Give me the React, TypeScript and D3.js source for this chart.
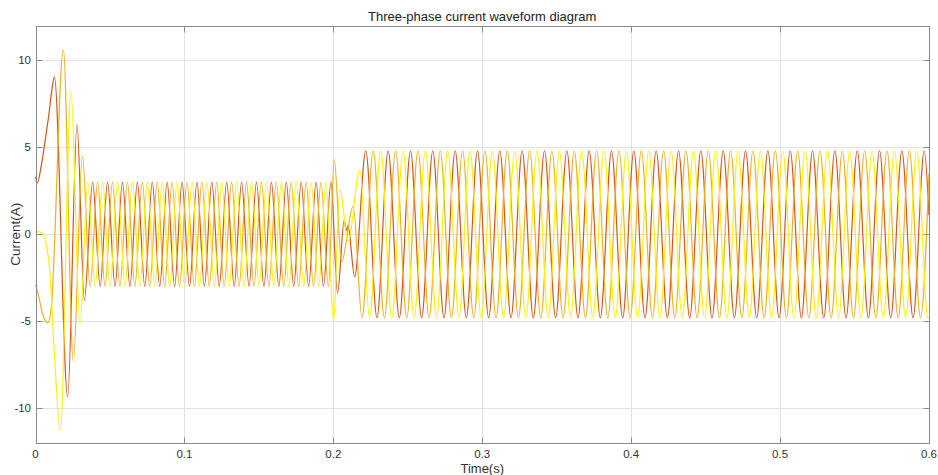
import * as d3 from 'd3'
import React, { useEffect, useRef } from "react";

// turning points [time (s), current (A)]
const phaseA: [number, number][] = [
    [0, 3.3], [0.0012, 2.95], [0.004, 4.0], [0.0065, 5.4], [0.009, 6.9], [0.011, 8.3], [0.0127, 9.05],
    [0.0216, -9.35], [0.0279, 6.3], [0.0328, -3.8],
    [0.0384, 3], [0.0434, -3], [0.0484, 3], [0.0534, -3], [0.0584, 3], [0.0634, -3], [0.0684, 3], [0.0734, -3],
    [0.0784, 3], [0.0834, -3], [0.0884, 3], [0.0934, -3], [0.0984, 3], [0.1034, -3], [0.1084, 3], [0.1134, -3],
    [0.1184, 3], [0.1234, -3], [0.1284, 3], [0.1334, -3], [0.1384, 3], [0.1434, -3], [0.1484, 3], [0.1534, -3],
    [0.1584, 3], [0.1634, -3], [0.1684, 3], [0.1734, -3], [0.1784, 3], [0.1834, -3], [0.1884, 3], [0.1934, -3],
    [0.1984, 3],
    [0.2028, -3.4], [0.2073, 0.8], [0.2088, 0.2], [0.2099, 0.5], [0.2143, -2.45],
    [0.2218, 4.8], [0.2293, -4.8], [0.2368, 4.8], [0.2443, -4.8], [0.2518, 4.8], [0.2593, -4.8], [0.2668, 4.8],
    [0.2743, -4.8], [0.2818, 4.8], [0.2893, -4.8], [0.2968, 4.8], [0.3043, -4.8], [0.3118, 4.8], [0.3193, -4.8],
    [0.3268, 4.8], [0.3343, -4.8], [0.3418, 4.8], [0.3493, -4.8], [0.3568, 4.8], [0.3643, -4.8], [0.3718, 4.8],
    [0.3793, -4.8], [0.3868, 4.8], [0.3943, -4.8], [0.4018, 4.8], [0.4093, -4.8], [0.4168, 4.8], [0.4243, -4.8],
    [0.4318, 4.8], [0.4393, -4.8], [0.4468, 4.8], [0.4543, -4.8], [0.4618, 4.8], [0.4693, -4.8], [0.4768, 4.8],
    [0.4843, -4.8], [0.4918, 4.8], [0.4993, -4.8], [0.5068, 4.8], [0.5143, -4.8], [0.5218, 4.8], [0.5293, -4.8],
    [0.5368, 4.8], [0.5443, -4.8], [0.5518, 4.8], [0.5593, -4.8], [0.5668, 4.8], [0.5743, -4.8], [0.5818, 4.8],
    [0.5893, -4.8], [0.5968, 4.8], [0.6, 1.1]
];

const phaseB: [number, number][] = [
    [0, -2.9], [0.002, -3.5], [0.0045, -4.5], [0.0082, -5.1], [0.0105, -4.3], [0.0187, 10.6], [0.0254, -7.3],
    [0.0315, 4.5],
    [0.0367, -3], [0.0417, 3], [0.0467, -3], [0.0517, 3], [0.0567, -3], [0.0617, 3], [0.0667, -3], [0.0717, 3],
    [0.0767, -3], [0.0817, 3], [0.0867, -3], [0.0917, 3], [0.0967, -3], [0.1017, 3], [0.1067, -3], [0.1117, 3],
    [0.1167, -3], [0.1217, 3], [0.1267, -3], [0.1317, 3], [0.1367, -3], [0.1417, 3], [0.1467, -3], [0.1517, 3],
    [0.1567, -3], [0.1617, 3], [0.1667, -3], [0.1717, 3], [0.1767, -3], [0.1817, 3], [0.1867, -3], [0.1917, 3],
    [0.1967, -3],
    [0.2006, 4.3], [0.2055, -1.6], [0.2133, 1.6],
    [0.2193, -4.8], [0.2268, 4.8], [0.2343, -4.8], [0.2418, 4.8], [0.2493, -4.8], [0.2568, 4.8], [0.2643, -4.8],
    [0.2718, 4.8], [0.2793, -4.8], [0.2868, 4.8], [0.2943, -4.8], [0.3018, 4.8], [0.3093, -4.8], [0.3168, 4.8],
    [0.3243, -4.8], [0.3318, 4.8], [0.3393, -4.8], [0.3468, 4.8], [0.3543, -4.8], [0.3618, 4.8], [0.3693, -4.8],
    [0.3768, 4.8], [0.3843, -4.8], [0.3918, 4.8], [0.3993, -4.8], [0.4068, 4.8], [0.4143, -4.8], [0.4218, 4.8],
    [0.4293, -4.8], [0.4368, 4.8], [0.4443, -4.8], [0.4518, 4.8], [0.4593, -4.8], [0.4668, 4.8], [0.4743, -4.8],
    [0.4818, 4.8], [0.4893, -4.8], [0.4968, 4.8], [0.5043, -4.8], [0.5118, 4.8], [0.5193, -4.8], [0.5268, 4.8],
    [0.5343, -4.8], [0.5418, 4.8], [0.5493, -4.8], [0.5568, 4.8], [0.5643, -4.8], [0.5718, 4.8], [0.5793, -4.8],
    [0.5868, 4.8], [0.5943, -4.8], [0.6, 3.5]
];

const phaseC: [number, number][] = [
    [0, 0.1], [0.002, 0.15], [0.0045, 0.05], [0.0095, -2.0], [0.0125, -6.6], [0.0167, -11.3], [0.0238, 8.2],
    [0.0299, -5.2],
    [0.0351, 3], [0.0401, -3], [0.0451, 3], [0.0501, -3], [0.0551, 3], [0.0601, -3], [0.0651, 3], [0.0701, -3],
    [0.0751, 3], [0.0801, -3], [0.0851, 3], [0.0901, -3], [0.0951, 3], [0.1001, -3], [0.1051, 3], [0.1101, -3],
    [0.1151, 3], [0.1201, -3], [0.1251, 3], [0.1301, -3], [0.1351, 3], [0.1401, -3], [0.1451, 3], [0.1501, -3],
    [0.1551, 3], [0.1601, -3], [0.1651, 3], [0.1701, -3], [0.1751, 3], [0.1801, -3], [0.1851, 3], [0.1901, -3],
    [0.1951, 3],
    [0.2001, -5.0], [0.2044, 2.6], [0.2099, -0.4], [0.2178, 3.7],
    [0.2243, -4.8], [0.2318, 4.8], [0.2393, -4.8], [0.2468, 4.8], [0.2543, -4.8], [0.2618, 4.8], [0.2693, -4.8],
    [0.2768, 4.8], [0.2843, -4.8], [0.2918, 4.8], [0.2993, -4.8], [0.3068, 4.8], [0.3143, -4.8], [0.3218, 4.8],
    [0.3293, -4.8], [0.3368, 4.8], [0.3443, -4.8], [0.3518, 4.8], [0.3593, -4.8], [0.3668, 4.8], [0.3743, -4.8],
    [0.3818, 4.8], [0.3893, -4.8], [0.3968, 4.8], [0.4043, -4.8], [0.4118, 4.8], [0.4193, -4.8], [0.4268, 4.8],
    [0.4343, -4.8], [0.4418, 4.8], [0.4493, -4.8], [0.4568, 4.8], [0.4643, -4.8], [0.4718, 4.8], [0.4793, -4.8],
    [0.4868, 4.8], [0.4943, -4.8], [0.5018, 4.8], [0.5093, -4.8], [0.5168, 4.8], [0.5243, -4.8], [0.5318, 4.8],
    [0.5393, -4.8], [0.5468, 4.8], [0.5543, -4.8], [0.5618, 4.8], [0.5693, -4.8], [0.5768, 4.8], [0.5843, -4.8],
    [0.5918, 4.8], [0.5993, -4.8], [0.6, -4.8]
];

const xTicks = [0, 0.1, 0.2, 0.3, 0.4, 0.5, 0.6];
const yTicks = [-10, -5, 0, 5, 10];
const seriesColors = ['#d95319', '#edb120', '#fff200'];

const App: React.FC = () => {
    const ref = useRef<SVGSVGElement>(null);

    useEffect(() => {
        if (!ref.current) return;
        const width = 938;
        const height = 475;
        const left = 35.5, right = 929, top = 25.5, bottom = 443;

        const svg = d3.select(ref.current)
            .attr('width', width)
            .attr('height', height);
        svg.selectAll('*').remove();

        const x = d3.scaleLinear().domain([0, 0.6]).range([left, right]);
        const y = d3.scaleLinear().domain([-12, 12]).range([bottom, top]);
        const px = (v: number) => Math.round(v) + 0.5;

        svg.append('rect').attr('width', width).attr('height', height).attr('fill', '#fff');

        // grid
        const grid = svg.append('g').attr('stroke', '#e2e2e2').attr('stroke-width', 1);
        xTicks.forEach(t => {
            grid.append('line').attr('x1', px(x(t))).attr('x2', px(x(t)))
                .attr('y1', px(top)).attr('y2', px(bottom));
        });
        yTicks.forEach(t => {
            grid.append('line').attr('x1', px(left)).attr('x2', px(right))
                .attr('y1', px(y(t))).attr('y2', px(y(t)));
        });

        // waveforms
        const line = d3.line<[number, number]>()
            .x(d => x(d[0]))
            .y(d => y(d[1]))
            .curve(d3.curveMonotoneX);

        const plot = svg.append('g');
        [phaseA, phaseB, phaseC].forEach((series, i) => {
            plot.append('path')
                .datum(series)
                .attr('fill', 'none')
                .attr('stroke', seriesColors[i])
                .attr('stroke-width', 1.2)
                .attr('stroke-linejoin', 'round')
                .attr('d', line);
        });

        // axes box + inward ticks
        const axisColor = '#8a8a8a';
        svg.append('rect')
            .attr('x', px(left)).attr('y', px(top))
            .attr('width', px(right) - px(left)).attr('height', px(bottom) - px(top))
            .attr('fill', 'none').attr('stroke', axisColor);

        const ticks = svg.append('g').attr('stroke', axisColor);
        xTicks.forEach(t => {
            ticks.append('line').attr('x1', px(x(t))).attr('x2', px(x(t)))
                .attr('y1', px(bottom)).attr('y2', px(bottom) - 6);
            ticks.append('line').attr('x1', px(x(t))).attr('x2', px(x(t)))
                .attr('y1', px(top)).attr('y2', px(top) + 6);
        });
        yTicks.forEach(t => {
            ticks.append('line').attr('x1', px(left)).attr('x2', px(left) + 6)
                .attr('y1', px(y(t))).attr('y2', px(y(t)));
            ticks.append('line').attr('x1', px(right)).attr('x2', px(right) - 6)
                .attr('y1', px(y(t))).attr('y2', px(y(t)));
        });

        const font = '"Liberation Sans", Arial, Helvetica, sans-serif';
        const textColor = '#333';

        svg.append('g').selectAll('text')
            .data(xTicks)
            .join('text')
            .attr('x', d => x(d))
            .attr('y', 458)
            .attr('text-anchor', 'middle')
            .attr('font-family', font)
            .attr('font-size', 11.5)
            .attr('fill', textColor)
            .text(d => d3.format('~g')(d));

        svg.append('g').selectAll('text')
            .data(yTicks)
            .join('text')
            .attr('x', 31)
            .attr('y', d => y(d))
            .attr('dy', '0.36em')
            .attr('text-anchor', 'end')
            .attr('font-family', font)
            .attr('font-size', 11.5)
            .attr('fill', textColor)
            .text(d => String(d));

        svg.append('text')
            .attr('x', (left + right) / 2)
            .attr('y', 21)
            .attr('text-anchor', 'middle')
            .attr('font-family', font)
            .attr('font-size', 13)
            .attr('fill', '#222')
            .text('Three-phase current waveform diagram');

        svg.append('text')
            .attr('x', (left + right) / 2)
            .attr('y', 473)
            .attr('text-anchor', 'middle')
            .attr('font-family', font)
            .attr('font-size', 13)
            .attr('fill', textColor)
            .text('Time(s)');

        svg.append('text')
            .attr('transform', `translate(20, ${y(0)}) rotate(-90)`)
            .attr('text-anchor', 'middle')
            .attr('font-family', font)
            .attr('font-size', 13.5)
            .attr('fill', textColor)
            .text('Current(A)');
    }, []);

    return (<svg ref={ref} style={{ position: 'absolute', left: 0, top: 0 }}></svg>);
}

export default App;
